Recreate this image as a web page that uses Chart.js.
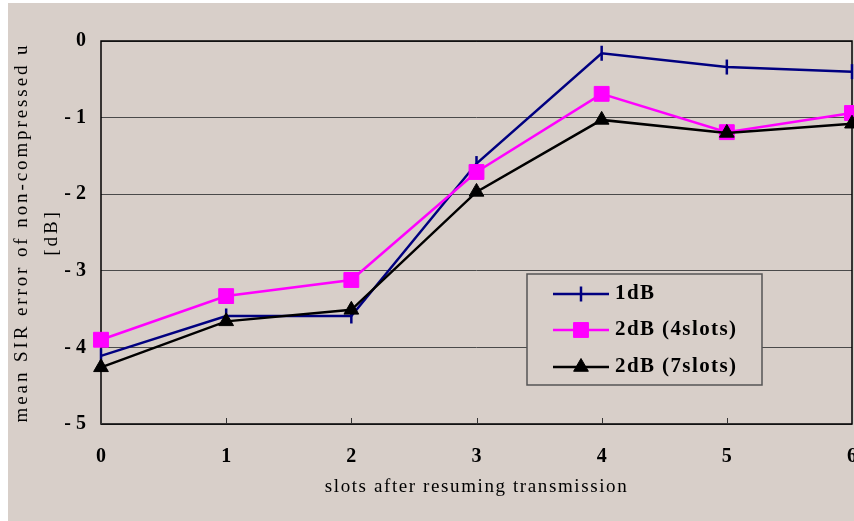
<!DOCTYPE html>
<html>
<head>
<meta charset="utf-8">
<script src="https://cdn.jsdelivr.net/npm/chart.js@4"></script>
<style>
  html, body { margin: 0; padding: 0; background: #ffffff; }
  #wrap { width: 854px; height: 521px; position: relative; }
</style>
</head>
<body>
<div id="wrap"><canvas id="c"></canvas></div>
<script>
const categories = ['0', '1', '2', '3', '4', '5', '6'];
const seriesNames = ['1dB', '2dB (4slots)', '2dB (7slots)'];
const series1dB = [-4.11, -3.59, -3.59, -1.60, -0.16, -0.34, -0.40];
const series2dB4 = [-3.90, -3.33, -3.12, -1.71, -0.69, -1.19, -0.94];
const series2dB7 = [-4.26, -3.66, -3.51, -1.97, -1.03, -1.20, -1.08];
const yTicks = [0, -1, -2, -3, -4, -5];
const xTitle = 'slots after resuming transmission';
const yTitleLines = ['mean SIR error of non-compressed u', '[dB]'];

const BG = '#d8cfc9';
const SERIF = '"Liberation Serif", "DejaVu Serif", serif';

const bgPlugin = {
  id: 'bg',
  beforeDraw(chart) {
    const ctx = chart.ctx;
    ctx.save();
    ctx.fillStyle = BG;
    ctx.fillRect(8, 3, chart.width - 8, chart.height - 3);
    ctx.restore();
  },
  beforeDatasetsDraw(chart) {
    const ctx = chart.ctx, a = chart.chartArea;
    ctx.save();
    ctx.strokeStyle = '#000000';
    ctx.lineWidth = 1.5;
    ctx.strokeRect(a.left, a.top, a.right - a.left, a.bottom - a.top);
    const xs = chart.scales.x;
    ctx.lineWidth = 1;
    ctx.strokeStyle = '#333333';
    for (let i = 0; i < categories.length; i++) {
      const px = Math.round(xs.getPixelForValue(i)) + 0.5;
      ctx.beginPath();
      ctx.moveTo(px, a.bottom);
      ctx.lineTo(px, a.bottom - 6);
      ctx.stroke();
    }
    ctx.restore();
  },
  afterDraw(chart) {
    const ctx = chart.ctx, a = chart.chartArea;
    ctx.save();
    ctx.fillStyle = '#000000';
    ctx.textAlign = 'center';
    ctx.textBaseline = 'middle';
    ctx.font = '19px ' + SERIF;
    ctx.letterSpacing = '1.6px';
    ctx.fillText(xTitle, (a.left + a.right) / 2, 487);
    ctx.font = '19px ' + SERIF;
    ctx.save();
    ctx.translate(22, (a.top + a.bottom) / 2);
    ctx.rotate(-Math.PI / 2);
    ctx.letterSpacing = '2.9px';
    ctx.fillText(yTitleLines[0], 0, 0);
    ctx.restore();
    ctx.save();
    ctx.translate(52, (a.top + a.bottom) / 2);
    ctx.rotate(-Math.PI / 2);
    ctx.letterSpacing = '2.9px';
    ctx.fillText(yTitleLines[1], 0, 0);
    ctx.restore();
    ctx.letterSpacing = '0px';

    const lx = 527, ly = 274, lw = 235, lh = 111;
    ctx.fillStyle = BG;
    ctx.fillRect(lx, ly, lw, lh);
    ctx.strokeStyle = '#555555';
    ctx.lineWidth = 1.5;
    ctx.strokeRect(lx, ly, lw, lh);
    const rows = [294, 330, 367];
    chart.data.datasets.forEach((ds, i) => {
      const y = rows[i];
      ctx.strokeStyle = ds.borderColor;
      ctx.lineWidth = ds.borderWidth;
      ctx.beginPath();
      ctx.moveTo(553, y);
      ctx.lineTo(609, y);
      ctx.stroke();
      if (ds.pointStyle === 'line') {
        ctx.beginPath();
        ctx.moveTo(581, y - 7.5); ctx.lineTo(581, y + 7.5);
        ctx.stroke();
      } else {
        ctx.fillStyle = ds.pointBackgroundColor;
        ctx.strokeStyle = ds.pointBorderColor;
        ctx.lineWidth = 1;
        Chart.helpers.drawPoint(ctx, {
          pointStyle: ds.pointStyle,
          radius: ds.pointRadius,
          rotation: 0,
          borderWidth: 1
        }, 581, y);
      }
      ctx.fillStyle = '#000000';
      ctx.textAlign = 'left';
      ctx.textBaseline = 'middle';
      ctx.font = 'bold 21px ' + SERIF;
      ctx.letterSpacing = '1.4px';
      ctx.fillText(ds.label, 615, y);
    });
    ctx.restore();
  }
};

new Chart(document.getElementById('c'), {
  type: 'line',
  data: {
    labels: categories,
    datasets: [
      {
        label: seriesNames[0],
        data: series1dB,
        borderColor: '#000080',
        backgroundColor: '#000080',
        borderWidth: 2.5,
        pointStyle: 'line',
        rotation: 90,
        pointRadius: 7.5,
        pointBorderWidth: 2.5,
        pointBorderColor: '#000080',
        pointBackgroundColor: '#000080',
        order: 3,
        tension: 0
      },
      {
        label: seriesNames[1],
        data: series2dB4,
        borderColor: '#ff00ff',
        backgroundColor: '#ff00ff',
        borderWidth: 2.5,
        pointStyle: 'rect',
        pointRadius: 10.5,
        pointBorderWidth: 1,
        pointBorderColor: '#ff00ff',
        pointBackgroundColor: '#ff00ff',
        order: 2,
        tension: 0
      },
      {
        label: seriesNames[2],
        data: series2dB7,
        borderColor: '#000000',
        backgroundColor: '#000000',
        borderWidth: 2.5,
        pointStyle: 'triangle',
        pointRadius: 8.5,
        pointBorderWidth: 1,
        pointBorderColor: '#000000',
        pointBackgroundColor: '#000000',
        order: 1,
        tension: 0
      }
    ]
  },
  options: {
    responsive: true,
    maintainAspectRatio: false,
    animation: false,
    devicePixelRatio: 1,
    layout: { autoPadding: false, padding: { left: 0, top: 41, right: 2, bottom: 0 } },
    plugins: {
      legend: { display: false },
      tooltip: { enabled: false },
      title: { display: false }
    },
    scales: {
      x: {
        type: 'category',
        offset: false,
        grid: { display: false, drawTicks: false },
        border: { display: false },
        ticks: {
          color: '#000000',
          font: { family: SERIF, size: 20, weight: 'bold' },
          padding: 21,
          maxRotation: 0,
          autoSkip: false
        },
        afterFit(scale) {
          scale.height = 97;
          scale.paddingLeft = 0;
          scale.paddingRight = 0;
        }
      },
      y: {
        min: -5,
        max: 0,
        afterBuildTicks(scale) {
          scale.ticks = yTicks.map(v => ({ value: v }));
        },
        grid: {
          color: '#4a4a4a',
          lineWidth: 1,
          drawTicks: false
        },
        border: { display: false },
        ticks: {
          color: '#000000',
          font: { family: SERIF, size: 20, weight: 'bold' },
          padding: 15,
          callback: v => (v < 0 ? '- ' + Math.abs(v) : String(v))
        },
        afterFit(scale) {
          scale.width = 101;
          scale.paddingTop = 0;
          scale.paddingBottom = 0;
        }
      }
    }
  },
  plugins: [bgPlugin]
});
</script>
</body>
</html>
